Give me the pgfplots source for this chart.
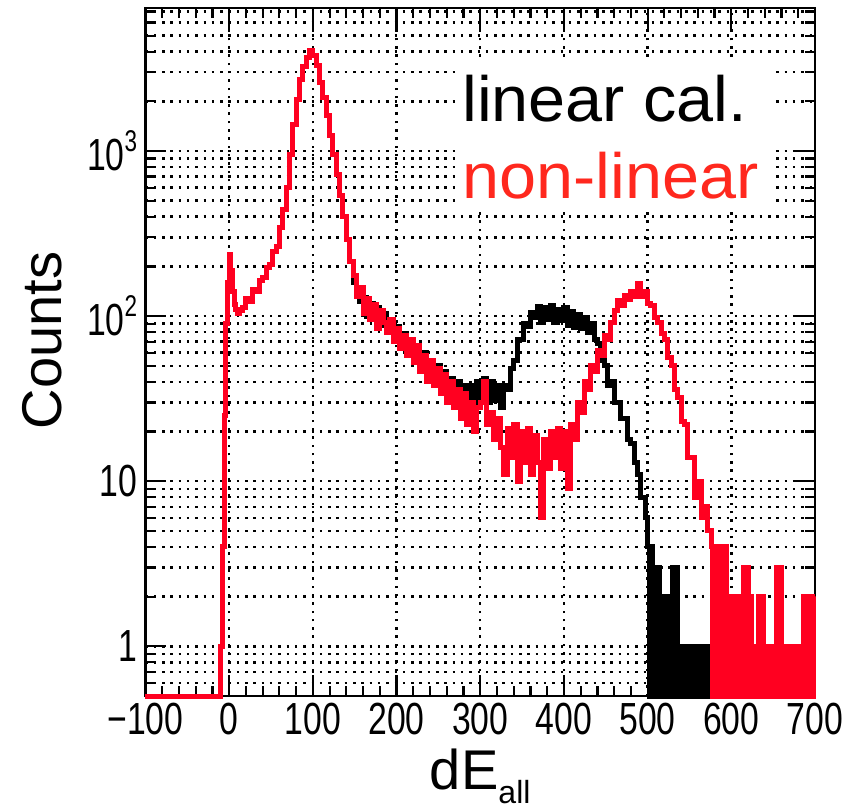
\documentclass[border=0pt]{standalone}
\usepackage{fontspec}
\setmainfont{Liberation Sans}
\newfontfamily\tickfont[FakeStretch=0.75]{Liberation Sans}
\newfontfamily\legfont[FakeStretch=1.04]{Liberation Sans}
\usepackage{pgfplots}
\pgfplotsset{compat=1.18}
\definecolor{rootred}{RGB}{255,0,32}
\definecolor{txtred}{RGB}{255,40,30}
\newcommand\tsup[1]{\raisebox{0.42em}{\fontsize{15}{15}\selectfont #1}}
\begin{document}
\begin{tikzpicture}
\begin{axis}[
  scale only axis, width=334.75pt, height=344pt,
  at={(0,0)}, anchor=south west,
  xmin=-100, xmax=700, ymode=log, ymin=0.5, ymax=7350,
  xtick={-100,0,100,200,300,400,500,600,700},
  xticklabels={−100,0,100,200,300,400,500,600,700},
  minor x tick num=4,
  ytick={1,10,100,1000}, yticklabels={1,10,10\tsup{2},10\tsup{3}},
  minor ytick={0.6,0.7,0.8,0.9,2,3,4,5,6,7,8,9,20,30,40,50,60,70,80,90,200,300,400,500,600,700,800,900,2000,3000,4000,5000,6000,7000},
  tick pos=both, tick align=inside,
  major tick length=10.5pt, minor tick length=5pt,
  axis line style={line width=1.3pt},
  every tick/.style={black, line width=1.1pt},
  xmajorgrids, ymajorgrids, yminorgrids,
  grid style={black, line width=1.25pt, dash pattern=on 1.25pt off 2.9pt},
  tick label style={font=\tickfont\fontsize{22.5}{22.5}\selectfont},
  xticklabel style={anchor=north, inner sep=0pt, yshift=-3.5pt},
  yticklabel style={anchor=east, inner sep=0pt, xshift=-4pt},
  xlabel={dE\raisebox{-0.25em}{\fontsize{16}{16}\selectfont all}},
  ylabel={Counts},
  label style={font=\fontsize{28}{28}\selectfont},
  xlabel style={at={(axis description cs:0.5,-0.1366)}, anchor=base, inner sep=0pt},
  ylabel style={at={(axis description cs:-0.1546,0.517)}, anchor=center},
  clip=false,
]
\addplot[const plot, black, line width=2.5pt] coordinates {
(-100,0.5) (-10,1) (-8,4) (-6,25) (-4,90) (-2,160) (0,235) (2,190) (4,140) (6,118) (8,110) (10,104) (12,108)
(16,112) (20,128) (24,122) (28,145) (32,140) (36,165) (40,172) (44,198) (48,205) (52,245) (56,265) (60,345) (64,440) (68,600) (72,950) (76,1450) (80,2050) (84,2700) (88,3250) (92,3700) (96,4050) (100,3800) (104,3300) (108,2600) (112,2100) (116,1650) (120,1250) (124,950) (128,720) (132,540) (136,400) (140,290) (144,215)
(148,160) (152,150) (156,122) (160,130) (164,100) (168,120) (172,95) (176,112) (180,88) (184,104) (188,84) (192,92) (196,76) (200,86) (204,66) (208,78) (212,60) (216,70) (220,54) (224,64) (228,50) (232,60) (236,44) (240,52) (244,42) (248,50) (252,36) (256,46) (260,34) (264,42) (268,32) (272,40) (276,30) (280,38) (284,28) (288,38) (292,30) (296,40)
(300,32) (304,42) (308,30) (312,40) (316,31) (320,38) (324,28) (328,38) (332,36) (336,48) (340,54) (344,72) (348,72) (352,90) (356,86) (360,105) (364,98) (368,115) (372,92) (376,112) (380,96) (384,116) (388,92) (392,110) (396,94) (400,112) (404,88) (408,106) (412,85) (416,102) (420,84) (424,98) (428,80) (432,90) (436,72) (440,68) (444,54) (448,50) (452,38) (456,40) (460,30) (464,30) (468,24) (472,24) (476,18) (480,17) (484,13) (488,11) (492,8) (496,8)
(498,6) (500,4) (502,0.5) (504,4) (506,0.5) (508,3) (510,0.5) (512,3) (514,2) (516,0.5) (518,2) (520,0.5) (522,2) (524,0.5) (526,2) (528,0.5) (530,3) (532,0.5) (534,3) (536,1) (538,0.5) (540,1) (542,0.5) (544,1) (546,0.5) (548,1) (550,0.5) (552,1) (554,0.5) (556,1) (558,0.5) (560,1) (562,0.5) (564,1) (566,0.5) (568,1) (570,0.5) (572,1) (574,0.5) (576,1) (578,0.5) (700,0.5)
};
\addplot[const plot, rootred, line width=2.5pt] coordinates {
(-100,0.5) (-10,1) (-8,4) (-6,25) (-4,90) (-2,160) (0,235) (2,190) (4,140) (6,118) (8,110) (10,104) (12,108)
(16,112) (20,128) (24,122) (28,145) (32,140) (36,165) (40,172) (44,198) (48,205) (52,245) (56,265) (60,345) (64,440) (68,600) (72,950) (76,1450) (80,2050) (84,2700) (88,3250) (92,3700) (96,4050) (100,3800) (104,3300) (108,2600) (112,2100) (116,1650) (120,1250) (124,950) (128,720) (132,540) (136,400) (140,290) (144,215)
(148,175) (152,132) (156,150) (160,104) (164,128) (168,96) (172,118) (176,84) (180,108) (184,92) (188,80) (192,96) (196,70) (200,84) (204,64) (208,76) (212,58) (216,72) (220,52) (224,66) (228,46) (232,58) (236,40) (240,54) (244,38) (248,48) (252,34) (256,44) (260,30) (264,40) (268,28) (272,36) (276,24) (280,34) (284,22) (288,30) (292,20) (296,28)
(300,30) (304,40) (308,22) (312,26) (316,18) (320,24) (324,16) (328,11) (332,21) (336,14) (340,22) (344,10) (348,20) (352,13) (356,21) (360,11) (364,19) (368,13) (372,6) (376,18) (380,12) (384,20) (388,14) (392,21) (396,12) (400,20) (404,9) (408,22) (412,18) (416,30) (420,26) (424,40) (428,36) (432,50) (436,46) (440,62) (444,58) (448,76) (452,72) (456,92) (460,108) (464,124) (468,116) (472,134) (476,126) (480,140) (484,132) (488,158) (492,132) (496,140) (500,120) (504,116) (508,98) (512,92) (516,78) (520,72) (524,56) (528,50) (532,36) (536,32) (540,23) (544,22) (548,14) (552,14) (556,8) (560,10) (564,6) (568,7) (572,5)
(576,4) (578,0.5) (580,4) (582,0.5) (584,3) (586,0.5) (588,4) (590,0.5) (592,4) (594,0.5) (596,2) (598,0.5) (600,2) (602,0.5) (604,2) (606,0.5) (608,2) (610,0.5) (612,2) (614,3) (616,0.5) (618,3) (620,0.5) (622,2) (624,0.5) (626,1) (628,0.5) (630,1) (632,2) (634,0.5) (636,2) (638,0.5) (640,1) (642,0.5) (644,1) (646,0.5) (648,1) (650,0.5) (652,1) (654,3) (656,0.5) (658,3) (660,0.5) (662,1) (664,0.5) (666,1) (668,0.5) (670,1) (672,0.5) (674,1) (676,0.5) (678,1) (680,0.5) (682,1) (684,0.5) (686,2) (688,0.5) (690,2) (692,0.5) (694,2) (696,0.5) (698,2) (700,2)
};
\end{axis}
\fill[white] (154.75pt,242pt) rectangle (313.25pt,317pt);
\node[anchor=base west, inner sep=0pt, font=\legfont\fontsize{32}{32}\selectfont] at (158.25pt,287pt) {linear cal.};
\node[anchor=base west, inner sep=0pt, text=txtred, font=\legfont\fontsize{32}{32}\selectfont] at (158.25pt,248.5pt) {non-linear};
\pgfresetboundingbox
\path[use as bounding box] (-72.75pt,-56.5pt) rectangle (355.25pt,348pt);
\end{tikzpicture}
\end{document}
